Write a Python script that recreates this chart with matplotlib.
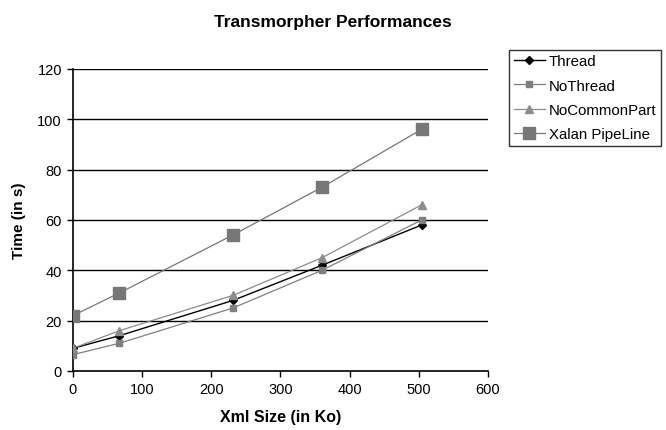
import matplotlib
matplotlib.use("Agg")
import matplotlib.pyplot as plt

plt.rcParams['font.family'] = ['Liberation Sans', 'DejaVu Sans']

# xml sizes (Ko) and timings (s)
sizes = [0, 67, 231, 360, 504]
thread = [9, 14, 28, 42, 58]
no_thread = [6.5, 11, 25, 40, 60]
no_common = [9, 16, 30, 45, 66]
xalan = [22, 31, 54, 73, 96]

series = [
    ("Thread", thread, dict(color='black', marker='D', markersize=4, lw=1.0)),
    ("NoThread", no_thread, dict(color='#7f7f7f', marker='s', markersize=5, lw=0.9)),
    ("NoCommonPart", no_common, dict(color='#8c8c8c', marker='^', markersize=6, lw=0.9)),
    ("Xalan PipeLine", xalan, dict(color='#777777', marker='s', markersize=8, lw=0.9)),
]


def main():
    fig = plt.figure(figsize=(6.66, 4.31), dpi=100)
    ax = fig.add_axes([0.1096, 0.137, 0.6231, 0.7006])

    for y in range(20, 121, 20):
        ax.axhline(y, color='black', lw=1.0, zorder=1)

    for name, vals, st in series:
        ax.plot(sizes, vals, label=name, zorder=3, **st)

    ax.set_xlim(0, 600)
    ax.set_ylim(0, 120)
    ax.set_xticks(range(0, 601, 100))
    ax.set_yticks(range(0, 121, 20))
    for s in ['top', 'right']:
        ax.spines[s].set_visible(False)
    for s in ['left', 'bottom']:
        ax.spines[s].set_linewidth(1.2)
    ax.tick_params(direction='out', length=4, width=1, labelsize=10.5, pad=4)

    ax.set_xlabel('Xml Size (in Ko)', fontsize=11.5, fontweight='bold', labelpad=9)
    ax.set_ylabel('Time (in s)', fontsize=11, fontweight='bold', labelpad=8)
    fig.text(333 / 666, 1 - 22 / 431, 'Transmorpher Performances',
             ha='center', va='center', fontsize=12.5, fontweight='bold')

    leg = fig.legend(loc='upper left', bbox_to_anchor=(509 / 666, 1 - 51 / 431),
                     borderaxespad=0, fontsize=10.8, frameon=True, fancybox=False,
                     edgecolor='black', handlelength=2.1, handletextpad=0.25,
                     borderpad=0.3, labelspacing=0.68)
    leg.get_frame().set_linewidth(1.0)

    fig.savefig('out.png', dpi=100)


if __name__ == '__main__':
    main()
